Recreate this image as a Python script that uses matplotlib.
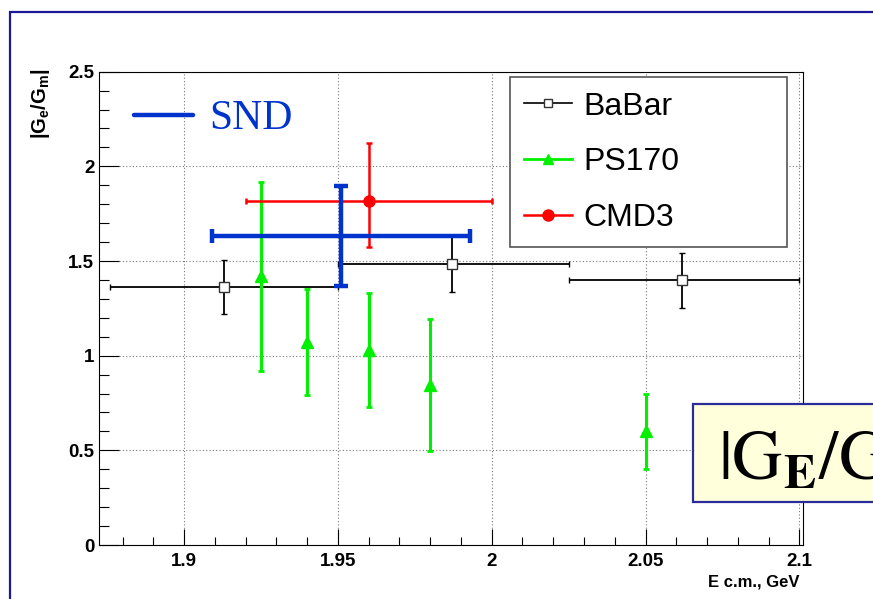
import matplotlib
matplotlib.use("Agg")
import matplotlib.pyplot as plt
from matplotlib.lines import Line2D
from matplotlib.patches import Rectangle
from matplotlib.ticker import MultipleLocator

plt.rcParams['font.family'] = 'Liberation Sans'
plt.rcParams['mathtext.fontset'] = 'custom'
plt.rcParams['mathtext.rm'] = 'Liberation Sans'
plt.rcParams['mathtext.bf'] = 'Liberation Sans:bold'
plt.rcParams['mathtext.it'] = 'Liberation Sans:italic'

# ---------- BaBar ----------
babar_e = [1.913, 1.987, 2.062]
babar_lo = [1.876, 1.95, 2.025]
babar_hi = [1.95, 2.025, 2.1]
babar_r = [1.365, 1.485, 1.398]
babar_dr = [0.143, 0.149, 0.147]

# ---------- PS170 ----------
ps_e = [1.925, 1.94, 1.96, 1.98, 2.05]
ps_r = [1.42, 1.07, 1.03, 0.845, 0.60]
ps_dr = [0.50, 0.28, 0.30, 0.35, 0.20]

# ---------- CMD3 ----------
cmd_e = [1.96]
cmd_lo = [1.92]
cmd_hi = [2.0]
cmd_r = [1.815]
cmd_dr_lo = [0.24]
cmd_dr_hi = [0.31]

# ---------- SND ----------
snd_e = [1.951]
snd_lo = [1.909]
snd_hi = [1.993]
snd_r = [1.632]
snd_dr = [0.264]

# ---------- Axis ticks ----------
x_ticks = [1.9, 1.95, 2.0, 2.05, 2.1]
x_tick_labels = ['1.9', '1.95', '2', '2.05', '2.1']
y_ticks = [0, 0.5, 1.0, 1.5, 2.0, 2.5]
y_tick_labels = ['0', '0.5', '1', '1.5', '2', '2.5']

BLUE = '#0033cc'
GREEN = '#00f000'
RED = '#ff0000'


def bin_err(e, lo, hi):
    return [[a - b for a, b in zip(e, lo)], [c - a for a, c in zip(e, hi)]]


fig = plt.figure(figsize=(8.73, 5.99), dpi=100)
ax = fig.add_axes([99.3 / 873, 1 - 545 / 599, 704 / 873, 473.3 / 599])

ax.errorbar(babar_e, babar_r, xerr=bin_err(babar_e, babar_lo, babar_hi), yerr=babar_dr,
            fmt='s', color='black', mfc='white', mec='#333333', ms=6.5, mew=1.0,
            elinewidth=1.3, capsize=2.5, capthick=1.3, zorder=3)
ax.errorbar(ps_e, ps_r, yerr=ps_dr, fmt='^', color=GREEN, ms=8,
            elinewidth=2.2, capsize=2.5, capthick=2.0, zorder=3)
ax.errorbar(cmd_e, cmd_r, xerr=bin_err(cmd_e, cmd_lo, cmd_hi), yerr=[cmd_dr_lo, cmd_dr_hi],
            fmt='o', color=RED, ms=8, elinewidth=1.8, capsize=2.5, capthick=1.8, zorder=4)
ax.errorbar(snd_e, snd_r, xerr=bin_err(snd_e, snd_lo, snd_hi), yerr=snd_dr,
            fmt='none', ecolor=BLUE, elinewidth=3.2, capsize=5, capthick=3.2, zorder=5)

# ---------- Axes style ----------
ax.set_xlim(1.8724, 2.1013)
ax.set_ylim(0, 2.5)
ax.set_xticks(x_ticks, x_tick_labels, fontweight='bold')
ax.set_yticks(y_ticks, y_tick_labels, fontweight='bold')
ax.xaxis.set_minor_locator(MultipleLocator(0.01))
ax.yaxis.set_minor_locator(MultipleLocator(0.1))
ax.tick_params(axis='both', which='both', direction='in', top=False, right=False,
               width=0.8, colors='black')
ax.tick_params(axis='x', which='major', length=11.5, pad=5.8, labelsize=13.5)
ax.tick_params(axis='x', which='minor', length=5.8)
ax.tick_params(axis='y', which='major', length=14.4, pad=3.6, labelsize=13.5)
ax.tick_params(axis='y', which='minor', length=7.2)
ax.set_axisbelow(True)
ax.grid(True, which='major', color='#777777', linestyle=(0, (1, 2)), lw=0.8)
for s in ax.spines.values():
    s.set_linewidth(0.8)

fig.text(800 / 873, 1 - 582 / 599, 'E c.m., GeV', ha='right', va='center',
         fontsize=12, fontweight='bold')
fig.text(41 / 873, 1 - 68 / 599, r'$\mathbf{|G_{e}/G_{m}|}$', rotation=90,
         ha='center', va='top', fontsize=14.5)

# ---------- Legends ----------
handles = [
    Line2D([], [], color='black', marker='s', mfc='white', mec='#333333', ms=6, lw=1.2),
    Line2D([], [], color=GREEN, marker='^', ms=7, lw=2.0),
    Line2D([], [], color=RED, marker='o', ms=8, lw=1.8),
]
leg = ax.legend(handles, ['BaBar', 'PS170', 'CMD3'], loc='upper left',
                bbox_to_anchor=(0.5834, 0.9882, 0.393, 0), mode='expand', borderaxespad=0,
                fontsize=23, handlelength=1.5, handletextpad=0.35, borderpad=0.45,
                labelspacing=0.8, fancybox=False, edgecolor='#555555', framealpha=1)
leg.get_frame().set_linewidth(1.2)
ax.add_artist(leg)

ax.legend([Line2D([], [], color=BLUE, lw=3.2, solid_capstyle='round')], ['SND'],
          loc='center left', bbox_to_anchor=(0.0493, 0.9), frameon=False,
          borderpad=0, borderaxespad=0, handlelength=1.42, handletextpad=0.38,
          prop={'family': 'Liberation Serif', 'size': 30}, labelcolor=BLUE)

# ---------- Slide frame and formula box ----------
fig.add_artist(Rectangle((10 / 873, -0.1), 1.5, 1 - 12 / 599 + 0.1, fill=False,
                         edgecolor='#1a1a99', lw=1.6, transform=fig.transFigure))
fig.add_artist(Rectangle((693 / 873, 1 - 502 / 599), 0.5, 98 / 599,
                         facecolor='#ffffdc', edgecolor='#2b2b99', lw=1.6,
                         transform=fig.transFigure))
fig.text(718 / 873, 1 - 480 / 599, r'$|\mathrm{G}_{\mathbf{E}}/\mathrm{G}_{\mathbf{M}}|$',
         math_fontfamily='stix', fontsize=50, va='baseline', ha='left')

fig.savefig('out.png', dpi=100)
